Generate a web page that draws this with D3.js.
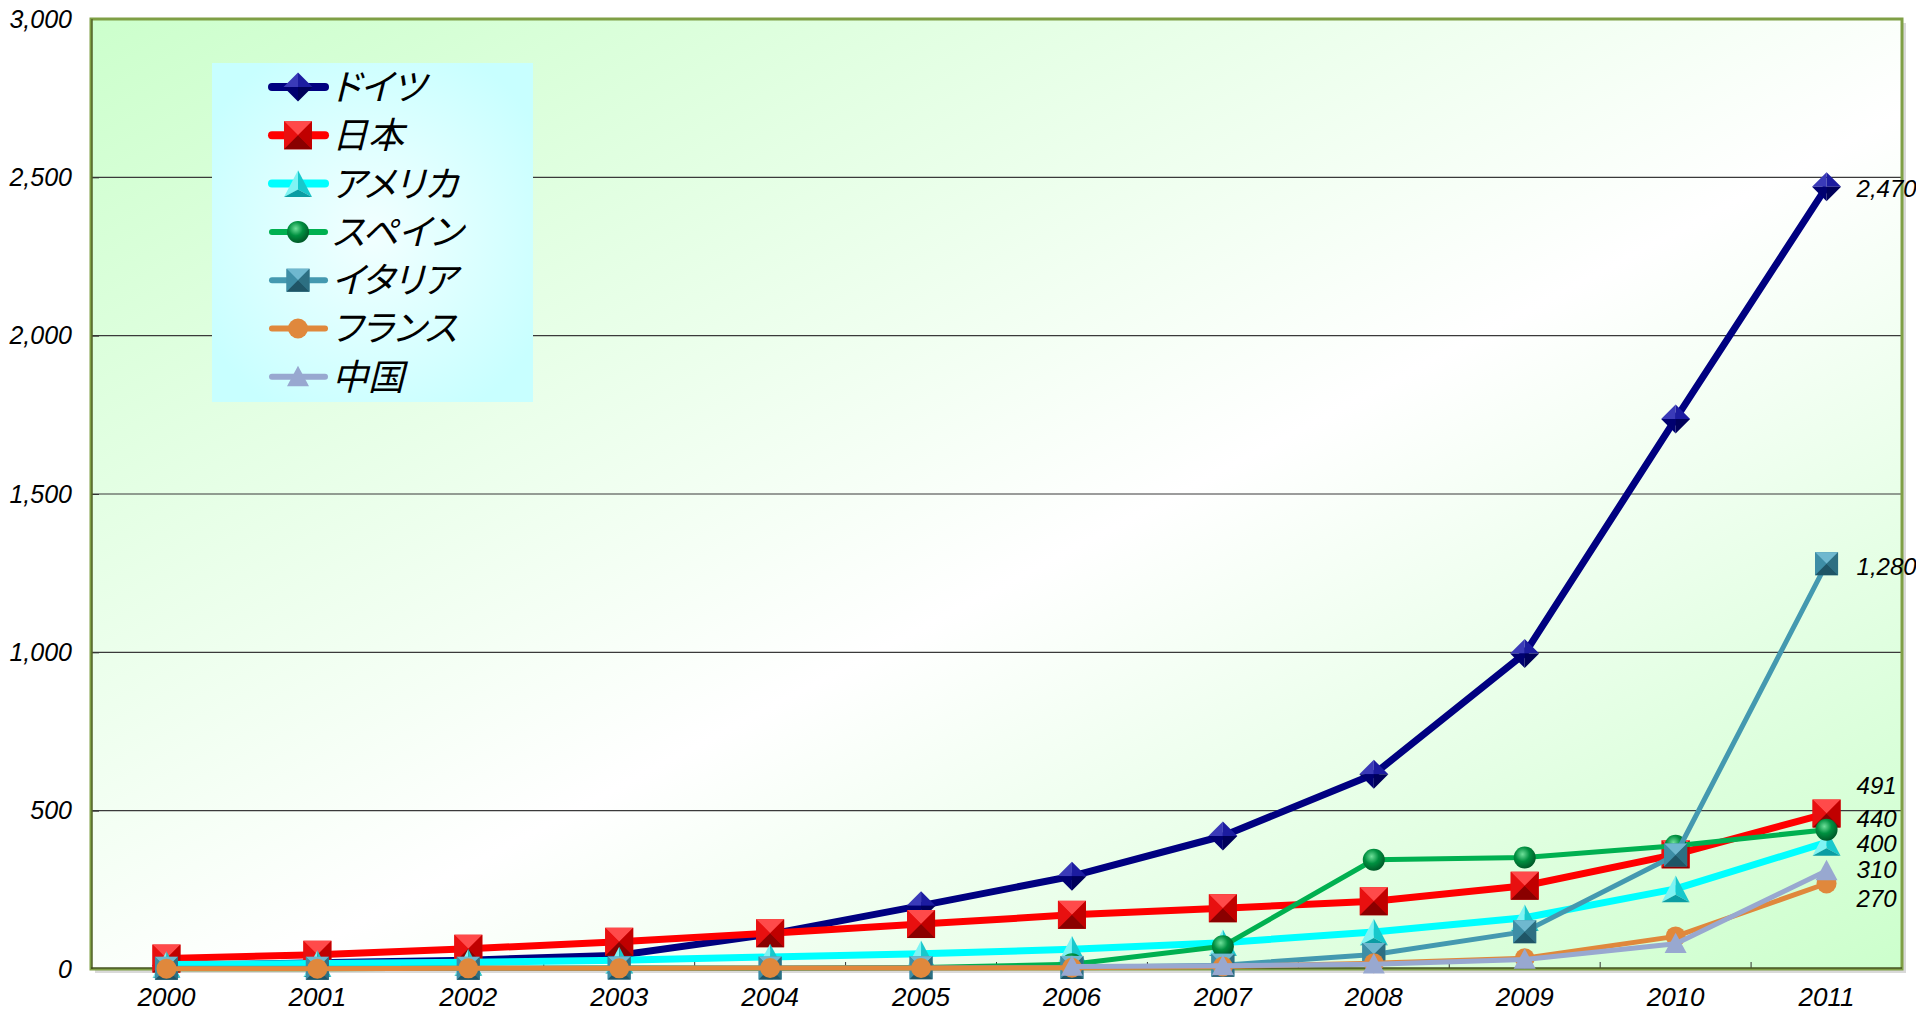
<!DOCTYPE html>
<html>
<head>
<meta charset="utf-8">
<script src="https://cdn.jsdelivr.net/npm/d3@7"></script>
<style>
  html, body { margin: 0; padding: 0; background: #ffffff; }
  svg { display: block; }
  .num { font-family: "Liberation Sans", Arial, sans-serif; font-style: italic; font-size: 24px; fill: #000; }
  .xlab { font-family: "Liberation Sans", Arial, sans-serif; font-style: italic; font-size: 26px; fill: #000; }
  .leg { font-family: "Noto Sans CJK JP", sans-serif; font-style: italic; font-size: 36px; fill: #000; font-feature-settings: "palt"; }
</style>
</head>
<body>
<svg id="chart" width="1916" height="1013"></svg>
<script>
// Cumulative installed PV capacity (unit: 10 MW)
const years = ["2000","2001","2002","2003","2004","2005","2006","2007","2008","2009","2010","2011"];
const seriesNames = ["ドイツ","日本","アメリカ","スペイン","イタリア","フランス","中国"];
const germany = [11, 19.5, 28, 43.5, 110, 200, 293, 420, 615, 996, 1737, 2470];
const japan   = [33, 45, 64, 86, 113, 142, 171, 192, 214, 263, 362, 491];
const usa     = [14, 17, 21, 28, 38, 48, 62, 83, 117, 162, 253, 400];
const spain   = [1, 1, 2, 3, 2, 5, 15, 72, 345, 352, 389, 440];
const italy   = [2, 2, 2, 3, 3, 4, 5, 12, 46, 118, 360, 1280];
const france  = [1, 1, 2, 2, 3, 3, 4, 8, 18, 34, 103, 270];
const china   = [null, null, null, null, null, null, 8, 10, 15, 30, 80, 310];
const yTicks  = [0, 500, 1000, 1500, 2000, 2500, 3000];

const seriesValues = [germany, japan, usa, spain, italy, france, china];

// Visual style for each series
const styles = [
  { color: "#000080", width: 7, marker: "diamond", size: 14.5, shades: ["#3a3ab8", "#1c1ca0", "#00005a", "#000070"] },
  { color: "#ff0000", width: 7, marker: "square", size: 14, shades: ["#ff4a4a", "#e81010", "#8a0000", "#c00000"] },
  { color: "#00ffff", width: 7, marker: "triangle", size: 14, shades: ["#7ff4f4", "#18c8cc", "#0a9da3"] },
  { color: "#00b050", width: 5, marker: "sphere", size: 11, shades: ["#6fe09a", "#009040", "#005a28"] },
  { color: "#4499b0", width: 5, marker: "square", size: 11.5, shades: ["#6fb8cf", "#3e8ea6", "#1f5566", "#2d6f82"] },
  { color: "#e0883c", width: 5, marker: "circle", size: 10, shades: ["#e0883c"] },
  { color: "#98a8d0", width: 5, marker: "flattri", size: 11, shades: ["#98a8d0"] }
];
// vertical nudges for the end-of-line value labels so they do not overlap
const labelNudge = [2, -28, 1, -11, 3, 15, -1];

const svg = d3.select("#chart");
const plot = { left: 91, right: 1902, top: 19, bottom: 969 };

const x = d3.scaleBand().domain(years).range([plot.left, plot.right]).paddingInner(0).paddingOuter(0);
const y = d3.scaleLinear().domain([0, 3000]).range([plot.bottom, plot.top]);
const cx = d => x(d) + x.bandwidth() / 2;

const defs = svg.append("defs");
const bg = defs.append("linearGradient").attr("id", "plotBg")
  .attr("x1", 0).attr("y1", 0).attr("x2", 1).attr("y2", 1);
bg.append("stop").attr("offset", 0).attr("stop-color", "#ccffcc");
bg.append("stop").attr("offset", 0.55).attr("stop-color", "#ffffff");
bg.append("stop").attr("offset", 1).attr("stop-color", "#ccffcc");

const legBg = defs.append("radialGradient").attr("id", "legBg")
  .attr("cx", 0.5).attr("cy", 0.5).attr("r", 0.6);
legBg.append("stop").attr("offset", 0).attr("stop-color", "#f2ffff");
legBg.append("stop").attr("offset", 1).attr("stop-color", "#c8ffff");

const sph = defs.append("radialGradient").attr("id", "sphere")
  .attr("cx", 0.4).attr("cy", 0.35).attr("r", 0.65);
sph.append("stop").attr("offset", 0).attr("stop-color", styles[3].shades[0]);
sph.append("stop").attr("offset", 0.5).attr("stop-color", styles[3].shades[1]);
sph.append("stop").attr("offset", 1).attr("stop-color", styles[3].shades[2]);

// plot area background and shadow
svg.append("rect").attr("x", plot.left + 4).attr("y", plot.top + 4)
  .attr("width", plot.right - plot.left).attr("height", plot.bottom - plot.top)
  .attr("fill", "#d9d9d9");
svg.append("rect").attr("x", plot.left).attr("y", plot.top)
  .attr("width", plot.right - plot.left).attr("height", plot.bottom - plot.top)
  .attr("fill", "url(#plotBg)");

// horizontal gridlines
svg.append("g").selectAll("line").data(yTicks.filter(t => t > 0 && t < 3000)).join("line")
  .attr("x1", plot.left).attr("x2", plot.right)
  .attr("y1", d => y(d)).attr("y2", d => y(d))
  .attr("stroke", "#3a3a3a").attr("stroke-width", 1.2);

// y axis
const yAxis = svg.append("g").attr("transform", `translate(${plot.left},0)`)
  .call(d3.axisLeft(y).tickValues(yTicks).tickSize(-8).tickPadding(19).tickFormat(d3.format(",")));
yAxis.select(".domain").remove();
yAxis.selectAll(".tick line").attr("stroke", "#333");
yAxis.selectAll("text").attr("class", "xlab").attr("fill", "#000").style("font-size", "25px");

// x axis with inner ticks at category boundaries
const xAxis = svg.append("g").attr("transform", `translate(0,${plot.bottom})`)
  .call(d3.axisBottom(x).tickSize(0).tickPadding(19));
xAxis.select(".domain").remove();
xAxis.selectAll("text").attr("class", "xlab").attr("fill", "#000");
svg.append("g").selectAll("line").data(years.slice(1)).join("line")
  .attr("x1", d => x(d)).attr("x2", d => x(d))
  .attr("y1", plot.bottom).attr("y2", plot.bottom - 7)
  .attr("stroke", "#333").attr("stroke-width", 1);

// plot frame
svg.append("rect").attr("x", plot.left).attr("y", plot.top)
  .attr("width", plot.right - plot.left).attr("height", plot.bottom - plot.top)
  .attr("fill", "none").attr("stroke", "#7f9f45").attr("stroke-width", 3);
svg.append("line").attr("x1", plot.left).attr("x2", plot.right)
  .attr("y1", plot.bottom - 1).attr("y2", plot.bottom - 1)
  .attr("stroke", "#2a3010").attr("stroke-width", 1.2);
svg.append("line").attr("x1", plot.left + 1).attr("x2", plot.left + 1)
  .attr("y1", plot.top).attr("y2", plot.bottom)
  .attr("stroke", "#3a4418").attr("stroke-width", 1);

// marker drawing
function drawMarker(g, st) {
  const s = st.size, c = st.shades;
  if (st.marker === "square") {
    g.append("rect").attr("x", -s).attr("y", -s).attr("width", 2 * s).attr("height", 2 * s).attr("fill", c[1]);
    g.append("path").attr("d", `M${-s},${-s}L${s},${-s}L0,0Z`).attr("fill", c[0]);
    g.append("path").attr("d", `M${-s},${-s}L${-s},${s}L0,0Z`).attr("fill", c[1]);
    g.append("path").attr("d", `M${s},${-s}L${s},${s}L0,0Z`).attr("fill", c[3]);
    g.append("path").attr("d", `M${-s},${s}L${s},${s}L0,0Z`).attr("fill", c[2]);
  } else if (st.marker === "diamond") {
    g.append("path").attr("d", `M0,${-s}L${-s},0L0,0Z`).attr("fill", c[0]);
    g.append("path").attr("d", `M0,${-s}L${s},0L0,0Z`).attr("fill", c[1]);
    g.append("path").attr("d", `M${-s},0L0,${s}L0,0Z`).attr("fill", c[3]);
    g.append("path").attr("d", `M${s},0L0,${s}L0,0Z`).attr("fill", c[2]);
  } else if (st.marker === "triangle") {
    const h = s * 0.95;
    g.append("path").attr("d", `M0,${-h}L${-s},${h}L0,${h * 0.45}Z`).attr("fill", c[0]);
    g.append("path").attr("d", `M0,${-h}L${s},${h}L0,${h * 0.45}Z`).attr("fill", c[1]);
    g.append("path").attr("d", `M${-s},${h}L${s},${h}L0,${h * 0.45}Z`).attr("fill", c[2]);
  } else if (st.marker === "sphere") {
    g.append("circle").attr("r", s).attr("fill", "url(#sphere)");
  } else if (st.marker === "circle") {
    g.append("circle").attr("r", s).attr("fill", c[0]);
  } else if (st.marker === "flattri") {
    g.append("path").attr("d", `M0,${-s}L${-s},${s * 0.85}L${s},${s * 0.85}Z`).attr("fill", c[0]);
  }
}

const line = d3.line().defined(d => d.v !== null).x(d => cx(d.year)).y(d => y(d.v));

// series in drawing order: each line with its markers
seriesValues.forEach((vals, i) => {
  const st = styles[i];
  const pts = years.map((yr, j) => ({ year: yr, v: vals[j] }));
  const g = svg.append("g").attr("class", "series");
  g.append("path").datum(pts).attr("d", line)
    .attr("fill", "none").attr("stroke", st.color).attr("stroke-width", st.width)
    .attr("stroke-linejoin", "round");
  g.selectAll("g.m").data(pts.filter(d => d.v !== null)).join("g").attr("class", "m")
    .attr("transform", d => `translate(${cx(d.year)},${y(d.v)})`)
    .each(function () { drawMarker(d3.select(this), st); });
});

// value labels at the last year
const lastYear = years[years.length - 1];
svg.append("g").selectAll("text").data(seriesValues).join("text")
  .attr("class", "num")
  .attr("x", cx(lastYear) + 30)
  .attr("y", (d, i) => y(d[d.length - 1]) + labelNudge[i])
  .attr("dy", "0.35em")
  .text(d => d3.format(",")(d[d.length - 1]));

// legend
const leg = svg.append("g").attr("transform", "translate(212,63)");
leg.append("rect").attr("width", 321).attr("height", 339).attr("fill", "url(#legBg)");
seriesNames.forEach((name, i) => {
  const st = styles[i];
  const row = leg.append("g").attr("transform", `translate(0,${24 + i * 48.3})`);
  row.append("line").attr("x1", 60).attr("x2", 113).attr("y1", 0).attr("y2", 0)
    .attr("stroke", st.color).attr("stroke-width", i < 3 ? 8 : 6).attr("stroke-linecap", "round");
  const m = row.append("g").attr("transform", "translate(86,0)");
  drawMarker(m, st);
  row.append("text").attr("class", "leg").attr("x", 120).attr("y", 0).attr("dy", "0.36em").text(name);
});
</script>
</body>
</html>
